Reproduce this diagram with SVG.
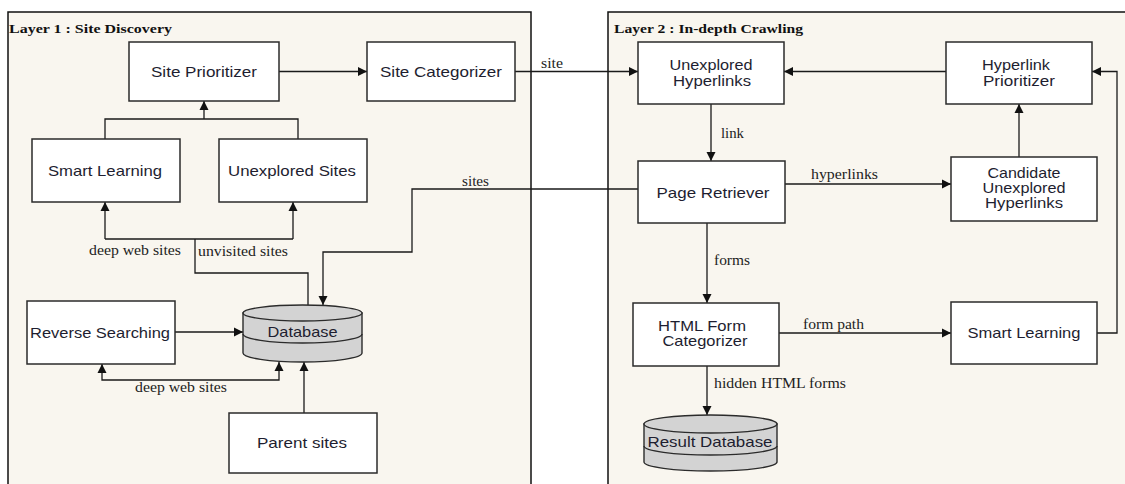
<svg xmlns="http://www.w3.org/2000/svg" width="1125" height="484" viewBox="0 0 1125 484">
  <style>
    .panel { fill: #f9f6ef; stroke: #111; stroke-width: 1.5; }
    .title { font-family: "Liberation Serif", "Times New Roman", serif; font-weight: bold; font-size: 13px; fill: #111; }
    .box { fill: #fff; stroke: #2b2b2b; stroke-width: 1.5; }
    .txt { font-family: "Liberation Sans", Arial, sans-serif; font-size: 15px; fill: #1e1e30; text-anchor: middle; }
    .lbl { font-family: "Liberation Serif", "Times New Roman", serif; font-size: 14px; fill: #222; }
    .db { fill: #d3d3d3; stroke: #2b2b2b; stroke-width: 1.4; }
    .dbline { fill: none; stroke: #2b2b2b; stroke-width: 1.4; }
    .conn { fill: none; stroke: #1a1a1a; stroke-width: 1.3; }
    .arr { marker-end: url(#head); }
  </style>
  <defs>
    <marker id="head" viewBox="0 0 10 10" refX="10" refY="5" markerWidth="9" markerHeight="10" markerUnits="userSpaceOnUse" orient="auto-start-reverse">
      <path d="M0,0 L10,5 L0,10 z" fill="#111"/>
    </marker>
  </defs>

  <rect width="1125" height="484" fill="#fff"/>

  <!-- layer panels -->
  <g id="layer1">
    <rect class="panel" x="8" y="12" width="523" height="490"/>
    <text class="title" x="9" y="33" textLength="163" lengthAdjust="spacingAndGlyphs">Layer 1 : Site Discovery</text>
  </g>
  <g id="layer2">
    <rect class="panel" x="608" y="12" width="530" height="490"/>
    <text class="title" x="614" y="33" textLength="189" lengthAdjust="spacingAndGlyphs">Layer 2 : In-depth Crawling</text>
  </g>

  <!-- connectors -->
  <g id="connectors">
    <path class="conn arr" d="M279,71.5 H367"/>
    <path class="conn arr" d="M515,71.5 H638"/>
    <text class="lbl" x="541" y="68" textLength="22" lengthAdjust="spacingAndGlyphs">site</text>
    <path class="conn arr" d="M946,71.5 H784"/>
    <path class="conn arr" d="M1097,333 H1117 V71.5 H1092"/>
    <path class="conn arr" d="M1019,157 V104"/>
    <path class="conn arr" d="M711,104 V161"/>
    <text class="lbl" x="721" y="138" textLength="23" lengthAdjust="spacingAndGlyphs">link</text>
    <path class="conn arr" d="M785,184 H951"/>
    <text class="lbl" x="811" y="179" textLength="67" lengthAdjust="spacingAndGlyphs">hyperlinks</text>
    <path class="conn arr" d="M638,189 H412 V252 H323 V305"/>
    <text class="lbl" x="462" y="186" textLength="27" lengthAdjust="spacingAndGlyphs">sites</text>
    <path class="conn arr" d="M707,223 V303"/>
    <text class="lbl" x="714" y="265" textLength="36" lengthAdjust="spacingAndGlyphs">forms</text>
    <path class="conn arr" d="M779,333 H951"/>
    <text class="lbl" x="803" y="329" textLength="61" lengthAdjust="spacingAndGlyphs">form path</text>
    <path class="conn arr" d="M707,366 V415"/>
    <text class="lbl" x="714" y="388" textLength="132" lengthAdjust="spacingAndGlyphs">hidden HTML forms</text>

    <path class="conn" d="M105,139 V119 H298 V139"/>
    <path class="conn arr" d="M204,119 V101"/>
    <path class="conn" d="M308,305 V273 H195 V239"/>
    <path class="conn arr" d="M105,239 V202"/>
    <path class="conn arr" d="M293,239 V202"/>
    <path class="conn" d="M105,239 H293"/>
    <text class="lbl" x="89" y="255" textLength="92" lengthAdjust="spacingAndGlyphs">deep web sites</text>
    <text class="lbl" x="198" y="256" textLength="90" lengthAdjust="spacingAndGlyphs">unvisited sites</text>

    <path class="conn arr" d="M175,332 H243"/>
    <path class="conn arr" d="M279,362 V380 H102 V364" marker-start="url(#head)"/>
    <text class="lbl" x="135" y="392" textLength="92" lengthAdjust="spacingAndGlyphs">deep web sites</text>
    <path class="conn arr" d="M304,413 V362"/>
  </g>

  <!-- layer 1 nodes -->
  <g id="site-prioritizer">
    <rect class="box" x="129" y="42" width="150" height="59"/>
    <text class="txt" x="204" y="76.5" textLength="106" lengthAdjust="spacingAndGlyphs">Site Prioritizer</text>
  </g>
  <g id="site-categorizer">
    <rect class="box" x="367" y="42" width="148" height="59"/>
    <text class="txt" x="441" y="76.5" textLength="122" lengthAdjust="spacingAndGlyphs">Site Categorizer</text>
  </g>
  <g id="smart-learning-1">
    <rect class="box" x="32" y="139" width="148" height="63"/>
    <text class="txt" x="105" y="175.5" textLength="114" lengthAdjust="spacingAndGlyphs">Smart Learning</text>
  </g>
  <g id="unexplored-sites">
    <rect class="box" x="219" y="139" width="148" height="63"/>
    <text class="txt" x="292" y="175.5" textLength="128" lengthAdjust="spacingAndGlyphs">Unexplored Sites</text>
  </g>
  <g id="reverse-searching">
    <rect class="box" x="27" y="301" width="148" height="63"/>
    <text class="txt" x="100" y="337.5" textLength="140" lengthAdjust="spacingAndGlyphs">Reverse Searching</text>
  </g>
  <g id="database">
    <path class="db" d="M243,313 V353 A59.5,9 0 0 0 362,353 V313 Z"/>
    <ellipse class="db" cx="302.5" cy="313" rx="59.5" ry="8"/>
    <path class="dbline" d="M243,334 A59.5,9 0 0 0 362,334"/>
    <text class="txt" x="302.5" y="337" textLength="70" lengthAdjust="spacingAndGlyphs">Database</text>
  </g>
  <g id="parent-sites">
    <rect class="box" x="229" y="413" width="148" height="60"/>
    <text class="txt" x="302" y="448" textLength="90" lengthAdjust="spacingAndGlyphs">Parent sites</text>
  </g>

  <!-- layer 2 nodes -->
  <g id="unexplored-hyperlinks">
    <rect class="box" x="638" y="42" width="146" height="62"/>
    <text class="txt" x="711" y="70" textLength="83" lengthAdjust="spacingAndGlyphs">Unexplored</text>
    <text class="txt" x="712" y="85.5" textLength="78" lengthAdjust="spacingAndGlyphs">Hyperlinks</text>
  </g>
  <g id="hyperlink-prioritizer">
    <rect class="box" x="946" y="42" width="146" height="62"/>
    <text class="txt" x="1016" y="70" textLength="68" lengthAdjust="spacingAndGlyphs">Hyperlink</text>
    <text class="txt" x="1019" y="85.5" textLength="72" lengthAdjust="spacingAndGlyphs">Prioritizer</text>
  </g>
  <g id="page-retriever">
    <rect class="box" x="638" y="161" width="147" height="62"/>
    <text class="txt" x="713" y="197.5" textLength="113" lengthAdjust="spacingAndGlyphs">Page Retriever</text>
  </g>
  <g id="candidate-hyperlinks">
    <rect class="box" x="951" y="157" width="146" height="64"/>
    <text class="txt" x="1024" y="178" textLength="73" lengthAdjust="spacingAndGlyphs">Candidate</text>
    <text class="txt" x="1024" y="193" textLength="83" lengthAdjust="spacingAndGlyphs">Unexplored</text>
    <text class="txt" x="1024" y="208" textLength="78" lengthAdjust="spacingAndGlyphs">Hyperlinks</text>
  </g>
  <g id="html-form-categorizer">
    <rect class="box" x="633" y="303" width="146" height="63"/>
    <text class="txt" x="702" y="331" textLength="88" lengthAdjust="spacingAndGlyphs">HTML Form</text>
    <text class="txt" x="705" y="346" textLength="85" lengthAdjust="spacingAndGlyphs">Categorizer</text>
  </g>
  <g id="smart-learning-2">
    <rect class="box" x="951" y="302" width="146" height="62"/>
    <text class="txt" x="1024" y="338" textLength="113" lengthAdjust="spacingAndGlyphs">Smart Learning</text>
  </g>
  <g id="result-database">
    <path class="db" d="M644,424 V462 A66.5,9 0 0 0 777,462 V424 Z"/>
    <ellipse class="db" cx="710.5" cy="424" rx="66.5" ry="9"/>
    <path class="dbline" d="M644,446 A66.5,9 0 0 0 777,446"/>
    <text class="txt" x="710" y="447" textLength="125" lengthAdjust="spacingAndGlyphs">Result Database</text>
  </g>
</svg>
